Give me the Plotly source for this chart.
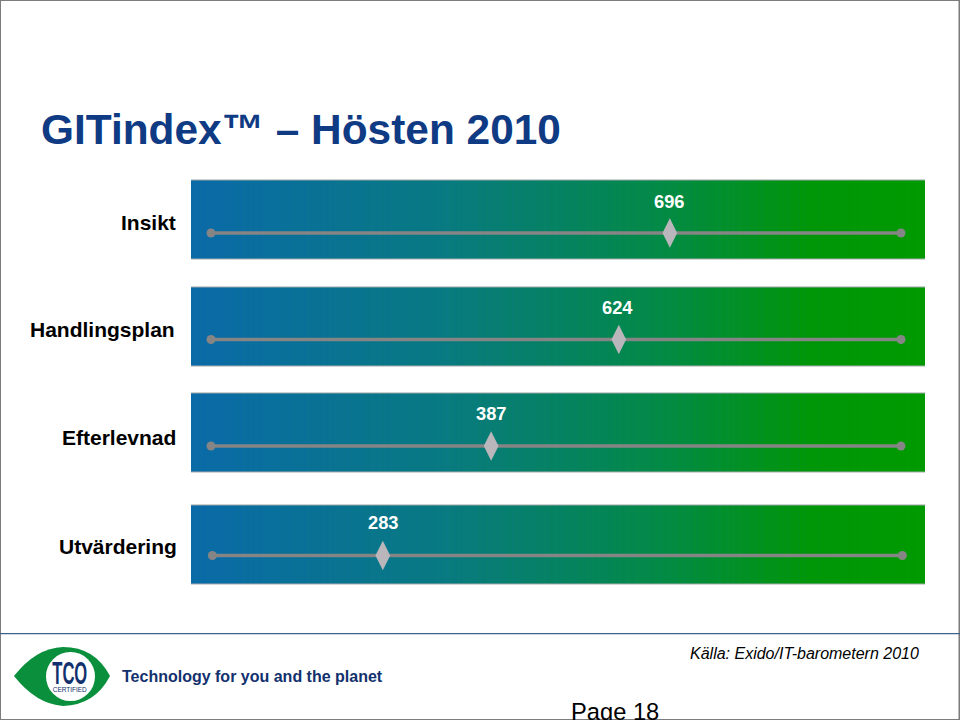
import numpy as np
import plotly.graph_objects as go

categories = ["Insikt", "Handlingsplan", "Efterlevnad", "Utvärdering"]
index_values = [696, 624, 387, 283]
# where each marker sits along its track, in percent of the track
track_percent = [66.5, 59.1, 40.6, 24.9]

W, H = 960, 720
ROW_TOP = [180, 287, 393, 505]
ROW_BOTTOM = [259, 366, 472, 584]
ROW_TRACK_Y = [233, 339.5, 446, 555.5]
ROW_SHIFT = [0, 0, 0, 0.2]
LABEL_Y = [222, 330, 438, 546.5]
LABEL_RIGHT = [177, 175.5, 177, 178]
VALUE_Y = [201, 307, 413, 522]
VALUE_NUDGE = [0, -1.5, 0.5, 1]

TRACK_L, TRACK_R = 211, 901
unit = (TRACK_R - TRACK_L) / 100
x_range = [-TRACK_L / unit, (W - TRACK_L) / unit]

def X(p):
    return (p - TRACK_L) / unit

def px(v):
    return v / W

def py(v):
    return 1 - v / H

BLUE_GREEN = [[0, "#0a6aa8"], [0.35, "#087a80"], [0.65, "#038a44"], [0.85, "#009608"], [1, "#009a00"]]
STRIPES = [0, .008, -.005, .011, -.009, .004, .012, -.006, .003, -.010, .007, -.003, .009, -.008]
n_bands = 240
band_edges = np.linspace(X(191), X(925), n_bands + 1)
band_levels = [i / (n_bands - 1) + STRIPES[i % len(STRIPES)] for i in range(n_bands)]

fig = go.Figure()
for i in range(4):
    fig.add_trace(go.Heatmap(
        x=band_edges, y=[ROW_TOP[i], ROW_BOTTOM[i]], z=[band_levels],
        colorscale=BLUE_GREEN, zmin=0, zmax=1, showscale=False, hoverinfo="skip"))
for i in range(4):
    s = ROW_SHIFT[i]
    fig.add_trace(go.Scatter(
        x=[s, 100 + s], y=[ROW_TRACK_Y[i]] * 2, mode="lines+markers",
        line=dict(color="#858585", width=3.5),
        marker=dict(color="#858585", size=9), hoverinfo="skip", showlegend=False))
    fig.add_trace(go.Scatter(
        x=[track_percent[i]], y=[ROW_TRACK_Y[i]], mode="markers",
        marker=dict(symbol="diamond-tall", size=21, color="#b9b6bc", line=dict(width=0)),
        showlegend=False, hoverinfo="skip"))

ann = []
def text(x, y, s, size, color="#000000", bold=False, italic=False, anchor="left", family="Liberation Sans"):
    body = s
    if bold:
        body = f"<b>{body}</b>"
    if italic:
        body = f"<i>{body}</i>"
    ann.append(dict(x=px(x), y=py(y), xref="paper", yref="paper", text=body, showarrow=False,
                    xanchor=anchor, yanchor="middle", borderpad=0,
                    font=dict(family=family, size=size, color=color)))

text(40, 129, "GITindex™ – Hösten 2010", 42.4, "#0f3a84", bold=True)
for i, c in enumerate(categories):
    text(LABEL_RIGHT[i], LABEL_Y[i], c, 21, bold=True, anchor="right")
    text(TRACK_L + track_percent[i] * unit + VALUE_NUDGE[i], VALUE_Y[i], str(index_values[i]), 18.3, "#ffffff",
         bold=True, anchor="center")
text(689, 653, "Källa: Exido/IT-barometern 2010", 16, italic=True)
text(570, 712, "Page 18", 23.7)
text(121, 676, "Technology for you and the planet", 16, "#12316e", bold=True)
text(70, 673, "TCO", 32, "#12316e", bold=True, anchor="center")
text(70, 689, "CERTIFIED", 7.5, "#12316e", anchor="center")

def rect(x0, y0, x1, y1, color):
    return dict(type="rect", xref="paper", yref="paper", x0=px(x0), x1=px(x1), y0=py(y0), y1=py(y1),
                fillcolor=color, line=dict(width=0), layer="above")

shapes = []
for top, bottom in zip(ROW_TOP, ROW_BOTTOM):
    shapes.append(rect(191, top - 0.5, 925, top + 0.5, "#9aa5a5"))
    shapes.append(rect(191, bottom - 0.5, 925, bottom + 0.5, "#a5acac"))
shapes += [
    rect(0, 0, W, 1, "#7c7c7c"), rect(0, 0, 1, H, "#7c7c7c"),
    rect(W - 1.5, 0, W, H, "#7c7c7c"), rect(0, H - 1, W, H, "#7c7c7c"),
    rect(0, 633, W, 634.2, "#3f608c"),
]
eye = "M {} {} Q {} {} {} {} Q {} {} {} {} Q {} {} {} {} Q {} {} {} {} Z".format(
    px(14), py(676), px(36), py(648), px(63), py(647), px(95), py(647), px(110), py(676),
    px(95), py(705), px(63), py(706), px(36), py(704), px(14), py(676))
shapes.append(dict(type="path", xref="paper", yref="paper", path=eye, fillcolor="#0a8f3c",
                   line=dict(width=0), layer="above"))
shapes.append(dict(type="circle", xref="paper", yref="paper", x0=px(46), x1=px(95), y0=py(652), y1=py(701),
                   fillcolor="#ffffff", line=dict(width=0), layer="above"))

fig.update_layout(
    width=W, height=H, margin=dict(l=0, r=0, t=0, b=0),
    paper_bgcolor="#ffffff", plot_bgcolor="#ffffff", showlegend=False,
    xaxis=dict(range=x_range, visible=False, fixedrange=True),
    yaxis=dict(range=[H, 0], visible=False, fixedrange=True),
    annotations=ann, shapes=shapes)

narrow_logo = """
document.body.style.margin='0';document.body.style.overflow='hidden';
document.querySelectorAll('.annotation-text').forEach(function(t){
  if(t.textContent==='TCO'){t.setAttribute('textLength','35');t.setAttribute('lengthAdjust','spacingAndGlyphs');}
  if(t.textContent==='CERTIFIED'){t.setAttribute('textLength','34');t.setAttribute('lengthAdjust','spacingAndGlyphs');}
});
"""
fig.write_html("out.html", config={"displayModeBar": False}, post_script=narrow_logo)
